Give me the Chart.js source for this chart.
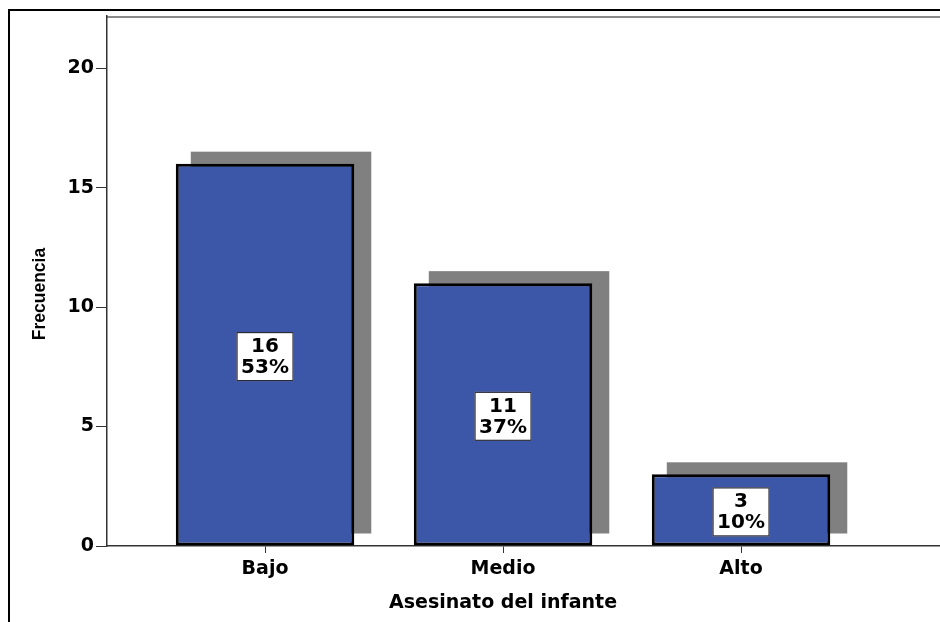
<!DOCTYPE html>
<html>
<head>
<meta charset="utf-8">
<script src="https://cdn.jsdelivr.net/npm/chart.js@4/dist/chart.umd.min.js"></script>
<style>
  html, body { margin: 0; padding: 0; background: #ffffff; }
  #wrap { width: 940px; height: 622px; position: relative; }
</style>
</head>
<body>
<div id="wrap"><canvas id="c" width="940" height="622"></canvas></div>
<script>
const categories = ['Bajo', 'Medio', 'Alto'];
const counts = [16, 11, 3];
const percents = ['53%', '37%', '10%'];
const yTicks = [0, 5, 10, 15, 20];
const yTitle = 'Frecuencia';
const xTitle = 'Asesinato del infante';

const FONT = '"DejaVu Sans", "Liberation Sans", Arial, sans-serif';

const framePlugin = {
  id: 'frame',
  beforeDraw(chart) {
    const ctx = chart.ctx;
    const a = chart.chartArea;
    ctx.save();
    ctx.strokeStyle = '#000';
    ctx.lineWidth = 2;
    ctx.beginPath();
    ctx.moveTo(9, 622);
    ctx.lineTo(9, 10);
    ctx.lineTo(940, 10);
    ctx.stroke();
    ctx.strokeStyle = '#8a8a8a';
    ctx.lineWidth = 2;
    ctx.beginPath();
    ctx.moveTo(a.left, a.top + 1);
    ctx.lineTo(a.right, a.top + 1);
    ctx.stroke();
    ctx.restore();
  },
  beforeDatasetsDraw(chart) {
    const ctx = chart.ctx;
    const meta = chart.getDatasetMeta(0);
    ctx.save();
    ctx.fillStyle = '#808080';
    meta.data.forEach((bar) => {
      const w = bar.width;
      ctx.fillRect(bar.x - w / 2 + 15, bar.y - 12, w + 2, bar.base - bar.y);
    });
    ctx.restore();
  },
  afterDatasetsDraw(chart) {
    const ctx = chart.ctx;
    const meta = chart.getDatasetMeta(0);
    ctx.save();
    meta.data.forEach((bar, i) => {
      const cx = bar.x;
      const cy = (bar.y + bar.base) / 2 + 2;
      const w = 57, h = 49;
      ctx.fillStyle = '#ffffff';
      ctx.fillRect(cx - w / 2, cy - h / 2, w, h);
      ctx.strokeStyle = '#2b2b3a';
      ctx.lineWidth = 1.2;
      ctx.strokeRect(cx - w / 2 + 0.5, cy - h / 2 + 0.5, w - 1, h - 1);
      ctx.fillStyle = '#000';
      ctx.font = 'bold 20px ' + FONT;
      ctx.textAlign = 'center';
      ctx.textBaseline = 'middle';
      ctx.fillText(String(counts[i]), cx, cy - 10);
      ctx.fillText(percents[i], cx, cy + 11);
    });
    const xs = chart.scales.x;
    ctx.fillStyle = '#000';
    ctx.font = 'bold 19px ' + FONT;
    ctx.textAlign = 'center';
    ctx.textBaseline = 'middle';
    ctx.fillText(xTitle, xs.getPixelForValue(1), 603);
    ctx.translate(40, 294);
    ctx.rotate(-Math.PI / 2);
    ctx.font = 'bold 17.5px "Liberation Sans", Arial, sans-serif';
    ctx.fillText(yTitle, 0, 0);
    ctx.restore();
  }
};

new Chart(document.getElementById('c'), {
  type: 'bar',
  data: {
    datasets: [{
      data: counts.map((v, i) => ({ x: i, y: v })),
      backgroundColor: '#3C56A8',
      borderColor: '#000000',
      borderWidth: 3,
      borderSkipped: false,
      barPercentage: 0.75,
      categoryPercentage: 1.0
    }]
  },
  options: {
    responsive: false,
    animation: false,
    devicePixelRatio: 1,
    layout: { padding: { top: 16, right: 0, left: 0, bottom: 0 } },
    plugins: { legend: { display: false }, tooltip: { enabled: false } },
    scales: {
      x: {
        type: 'linear',
        offset: false,
        min: -0.664,
        max: 2.836,
        afterFit(s) { s.height = 76; },
        afterBuildTicks(s) { s.ticks = categories.map((c, i) => ({ value: i })); },
        grid: { offset: false, drawOnChartArea: false, drawTicks: true, tickLength: 7, color: '#333' },
        border: { display: true, color: '#333', width: 1.5 },
        ticks: {
          callback: (v) => categories[v],
          color: '#000',
          font: { family: FONT, size: 19, weight: 'bold' },
          padding: 5,
          maxRotation: 0
        }
      },
      y: {
        min: 0,
        max: 22.18,
        afterFit(s) { s.width = 107; },
        afterBuildTicks(s) { s.ticks = yTicks.map(v => ({ value: v })); },
        grid: { drawOnChartArea: false, drawTicks: true, tickLength: 11, color: '#333' },
        border: { display: true, color: '#333', width: 1.5 },
        ticks: {
          color: '#000',
          font: { family: FONT, size: 19, weight: 'bold' },
          padding: 2
        }
      }
    }
  },
  plugins: [framePlugin]
});
</script>
</body>
</html>
